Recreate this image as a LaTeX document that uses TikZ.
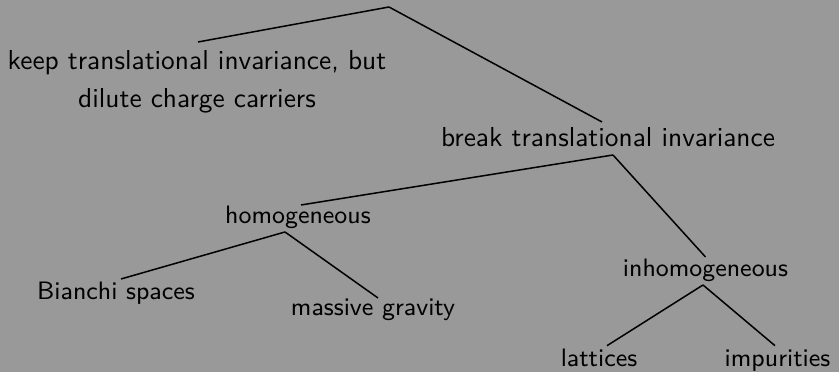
\documentclass[tikz,border=0pt]{standalone}
\usepackage{fontspec}
\usetikzlibrary{calc}
\definecolor{bg}{RGB}{153,153,153}
\begin{document}
\begin{tikzpicture}[x=0.365pt,y=-0.365pt,
  lbl/.style={inner sep=0pt, anchor=base, font=\sffamily},
  sublbl/.style={lbl, font=\sffamily\fontsize{9.2}{11}\selectfont},
  conn/.style={line width=0.55pt, black}]
\fill[bg] (0,0) rectangle (839,372);
\useasboundingbox (0,0) rectangle (839,372);
\coordinate (root) at (389,7);
\node[lbl, anchor=north, align=center, font=\sffamily\fontsize{10}{13.9}\selectfont] (keep) at (197,50) {keep translational invariance, but\\dilute charge carriers};
\node[lbl] (break) at (608,147) {break translational invariance};
\node[sublbl] (homo) at (298,224) {homogeneous};
\node[sublbl] (inhomo) at (705.5,277) {inhomogeneous};
\node[sublbl] (bianchi) at (116,300) {Bianchi spaces};
\node[sublbl] (massive) at (373,316) {massive gravity};
\node[sublbl] (lattices) at (599,366.7) {lattices};
\node[sublbl] (impur) at (777.5,366.7) {impurities};
\draw[conn] (root) -- ($(keep.north)+(1,-8)$);
\draw[conn] (root) -- ($(break.base)+(-6,-25)$);
\draw[conn] ($(break.base)+(5,8)$) -- ($(homo.base)+(3,-19)$);
\draw[conn] ($(break.base)+(5,8)$) -- ($(inhomo.base)+(0,-20)$);
\draw[conn] ($(homo.base)+(-13,8)$) -- ($(bianchi.base)+(5,-21)$);
\draw[conn] ($(homo.base)+(-13,8)$) -- ($(massive.base)+(5,-18)$);
\draw[conn] ($(inhomo.base)+(-2.5,8)$) -- ($(lattices.base)+(8,-21)$);
\draw[conn] ($(inhomo.base)+(-2.5,8)$) -- ($(impur.base)+(-2.5,-21)$);
\end{tikzpicture}
\end{document}
